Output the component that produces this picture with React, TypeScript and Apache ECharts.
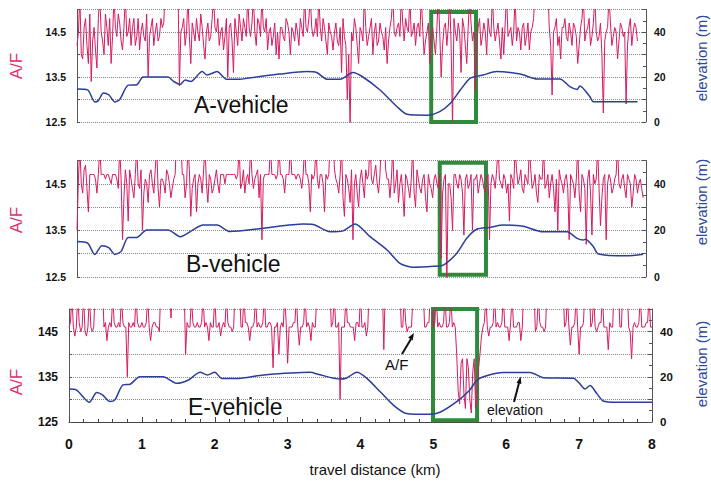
import React, { useEffect, useRef } from "react";
import * as echarts from "echarts";

// ---------- data ----------
const STEP_KM = 0.04; // spacing of the main A/F samples along the route (km); mid samples sit halfway between

const distanceTicks = [0, 1, 2, 3, 4, 5, 6, 7, 8];
const afTickValues = [12.5, 13.5, 14.5];
const afTickLabelsAB = ["12.5", "13.5", "14.5"];
const afTickLabelsE = ["125", "135", "145"];
const elevTickValues = [0, 20, 40];
const vehicleNames = ["A-vehicle", "B-vehicle", "E-vehicle"];

// A/F readings (values above 15 fall outside the plotted range)
const afA = [
  14.2, 15.3, 13.9, 14.8, 13.8, 13.4, 14.6, 13.7, 15.3, 14.3,
  14.9, 14.2, 13.8, 15.3, 14.4, 14.7, 14.1, 15.3, 14.5, 14.2,
  14.8, 14.4, 14.1, 14.7, 14.3, 13.5, 14.6, 14.2, 14.7, 14.4,
  14.6, 15.5, 15.5, 15.5, 15.5, 15.5, 13.3, 14.6, 14.2, 15.3,
  13.8, 14.5, 14.8, 14.3, 14.6, 13.9, 14.7, 14.4, 15.3, 14.5,
  14.2, 14.6, 14.4, 13.5, 14.7, 13.6, 14.5, 14.9, 14.3, 14.6,
  15.3, 14.4, 15.3, 14.2, 14.7, 15.3, 14.5, 14.1, 14.6, 14.4,
  14.0, 13.9, 14.6, 14.3, 14.7, 14.0, 14.5, 14.7, 14.2, 14.6,
  15.3, 14.5, 15.3, 14.4, 14.8, 15.3, 14.3, 14.6, 14.0, 14.5,
  14.1, 14.7, 14.2, 13.6, 14.4, 13.0, 12.4, 14.3, 14.6, 13.8,
  14.5, 15.3, 14.2, 14.6, 14.0, 14.7, 14.3, 14.5, 14.1, 13.8,
  14.6, 15.3, 14.4, 14.7, 15.3, 14.3, 14.6, 15.3, 14.5, 14.2,
  14.7, 15.3, 14.0, 14.5, 13.8, 14.6, 14.0, 15.3, 13.5, 14.6,
  14.2, 15.3, 12.4, 14.5, 14.7, 13.6, 14.6, 13.8, 15.3, 14.3,
  13.2, 14.6, 14.2, 14.7, 14.0, 14.5, 15.3, 14.3, 14.7, 13.9,
  14.0, 15.3, 14.5, 14.2, 15.3, 14.6, 14.1, 14.7, 14.4, 14.1,
  14.6, 15.5, 15.5, 15.5, 15.5, 15.5, 14.6, 13.1, 14.6, 14.2,
  13.9, 14.6, 14.4, 14.7, 14.2, 14.6, 13.8, 14.6, 15.3, 14.5,
  14.8, 14.4, 15.3, 14.3, 14.7, 12.7, 14.5, 15.3, 14.2, 14.6,
  13.9, 14.7, 14.4, 12.9, 14.6, 14.2, 14.7, 14.3,
];
const afAMid = [
  14.5, 14.0, 14.6, 14.2, 14.9, 14.3, 14.1, 14.8, 14.5, 14.0,
  14.6, 14.8, 14.4, 14.6, 14.9, 14.3, 14.6, 14.4, 14.8, 14.6,
  14.2, 14.8, 14.5, 14.4, 14.9, 14.4, 14.8, 14.5, 14.3, 14.8,
  14.7, 15.5, 15.5, 15.5, 15.5, 15.5, 14.5, 14.8, 14.5, 14.4,
  14.7, 14.3, 14.5, 14.9, 14.2, 14.5, 14.3, 14.8, 14.6, 14.8,
  14.5, 14.1, 14.8, 14.6, 14.3, 14.8, 14.2, 14.6, 14.8, 14.4,
  14.6, 14.7, 14.5, 14.8, 14.4, 14.6, 14.8, 14.5, 14.2, 14.7,
  14.5, 14.6, 14.4, 14.8, 14.5, 14.6, 14.3, 14.5, 14.8, 14.4,
  14.6, 14.8, 14.6, 14.5, 14.4, 14.6, 14.8, 14.3, 14.7, 14.4,
  14.5, 14.3, 14.6, 14.8, 14.2, 14.0, 14.5, 14.8, 14.2, 14.6,
  14.3, 14.6, 14.4, 14.8, 14.5, 14.2, 14.7, 14.4, 14.6, 14.3,
  14.8, 14.5, 14.6, 14.4, 14.7, 14.8, 14.5, 14.4, 14.7, 14.6,
  14.4, 14.6, 14.3, 14.7, 14.4, 14.3, 14.6, 14.5, 14.2, 14.7,
  14.6, 14.2, 14.8, 14.3, 14.5, 14.8, 14.2, 14.6, 14.7, 14.5,
  14.2, 14.8, 14.4, 14.5, 14.8, 14.4, 14.6, 14.5, 14.3, 14.6,
  14.7, 14.4, 14.6, 14.5, 14.3, 14.5, 14.6, 14.2, 14.7, 14.5,
  14.8, 15.5, 15.5, 15.5, 15.5, 15.5, 14.2, 14.5, 14.8, 14.4,
  14.6, 14.8, 14.3, 14.5, 14.7, 14.4, 14.2, 14.8, 14.3, 14.6,
  14.2, 14.7, 14.5, 14.4, 14.0, 14.3, 14.6, 14.7, 14.4, 14.5,
  14.3, 14.6, 14.5, 14.2, 14.8, 14.5, 14.6,
];

const afB = [
  13.5, 15.3, 14.3, 14.9, 13.9, 14.7, 14.7, 14.3, 15.3, 14.7,
  14.6, 14.7, 14.5, 14.7, 14.6, 15.3, 13.3, 14.8, 13.7, 14.6,
  14.2, 15.3, 14.4, 13.5, 14.6, 14.1, 14.8, 14.3, 15.3, 14.0,
  14.6, 14.3, 14.7, 14.2, 14.6, 15.5, 15.5, 14.7, 14.2, 15.3,
  13.8, 14.6, 13.9, 14.7, 14.3, 15.3, 14.1, 14.6, 14.4, 14.8,
  14.3, 14.7, 14.5, 14.7, 14.7, 14.7, 14.6, 15.3, 14.5, 14.3,
  14.7, 15.3, 14.4, 14.7, 14.2, 13.3, 14.7, 14.7, 15.3, 14.7,
  14.6, 15.3, 14.7, 14.3, 14.7, 15.3, 14.7, 14.6, 14.7, 14.4,
  15.3, 14.7, 13.9, 14.6, 15.3, 14.4, 14.7, 13.9, 14.6, 15.5,
  15.5, 14.6, 14.3, 15.3, 13.8, 14.6, 14.1, 13.3, 14.7, 14.0,
  14.8, 14.2, 14.6, 15.5, 14.5, 14.9, 14.3, 15.5, 15.5, 14.6,
  14.2, 15.3, 14.5, 14.1, 14.7, 13.8, 14.6, 14.2, 15.3, 14.0,
  14.6, 14.3, 14.7, 13.9, 14.5, 14.2, 14.7, 14.4, 12.9, 14.6,
  12.4, 14.5, 13.5, 14.7, 14.4, 14.6, 13.4, 14.7, 14.5, 13.5,
  14.6, 14.3, 14.7, 14.4, 14.6, 13.3, 14.7, 14.4, 15.3, 14.5,
  14.7, 14.3, 13.7, 14.6, 15.3, 14.5, 14.8, 14.3, 14.6, 15.3,
  14.4, 14.7, 14.1, 14.6, 15.3, 14.5, 14.2, 14.7, 13.9, 13.5,
  14.6, 14.3, 14.7, 13.3, 14.6, 14.2, 15.3, 13.9, 14.6, 13.2,
  14.8, 13.4, 14.5, 15.3, 13.6, 14.6, 13.3, 14.7, 14.3, 14.6,
  15.3, 14.4, 14.7, 14.2, 14.6, 14.0, 14.7, 14.3, 14.6, 14.2,
];
const afBMid = [
  14.6, 14.5, 14.8, 14.4, 14.7, 14.7, 14.6, 14.7, 14.7, 14.7,
  14.7, 14.6, 14.7, 14.7, 14.4, 14.6, 14.2, 14.5, 14.8, 14.4,
  14.7, 14.5, 14.8, 14.3, 14.5, 14.7, 14.5, 14.8, 14.4, 14.6,
  14.5, 14.8, 14.5, 14.4, 14.7, 15.5, 15.5, 14.7, 14.5, 14.8,
  14.4, 14.7, 14.5, 14.6, 14.8, 14.5, 14.7, 14.3, 14.6, 14.5,
  14.7, 14.7, 14.7, 14.7, 14.7, 14.7, 14.7, 14.4, 14.8, 14.6,
  14.5, 14.7, 14.6, 14.8, 14.7, 14.6, 14.7, 14.7, 14.7, 14.7,
  14.7, 14.7, 14.6, 14.7, 14.7, 14.7, 14.7, 14.7, 14.6, 14.7,
  14.7, 14.5, 14.7, 14.7, 14.6, 14.7, 14.5, 14.7, 14.7, 15.5,
  14.8, 14.5, 14.7, 14.2, 14.7, 14.4, 14.8, 14.5, 14.3, 14.6,
  14.5, 14.8, 14.7, 14.6, 14.7, 14.5, 14.7, 15.5, 14.8, 14.6,
  14.6, 14.3, 14.8, 14.5, 14.3, 14.7, 14.4, 14.6, 14.3, 14.8,
  14.4, 14.6, 14.2, 14.7, 14.4, 14.6, 14.5, 14.7, 14.3, 14.7,
  14.5, 14.2, 14.7, 14.5, 14.7, 14.3, 14.6, 14.4, 14.7, 14.6,
  14.7, 14.5, 14.6, 14.3, 14.7, 14.5, 14.6, 14.8, 14.6, 14.4,
  14.6, 14.5, 14.7, 14.4, 14.8, 14.6, 14.4, 14.7, 14.5, 14.8,
  14.5, 14.3, 14.7, 14.6, 14.4, 14.7, 14.5, 14.4, 14.6, 14.8,
  14.5, 14.6, 14.4, 14.7, 14.5, 14.6, 14.3, 14.7, 14.4, 14.6,
  14.3, 14.7, 14.6, 14.4, 14.2, 14.7, 14.5, 14.6, 14.4, 14.7,
  14.5, 14.6, 14.4, 14.7, 14.5, 14.3, 14.6, 14.5, 14.4,
];

const afE = [
  14.6, 15.3, 14.4, 15.3, 14.5, 15.3, 14.4, 15.3, 14.5, 15.5,
  15.5, 15.5, 14.6, 14.3, 14.7, 15.3, 14.6, 14.7, 15.3, 14.6,
  13.5, 14.6, 14.7, 15.3, 14.6, 14.7, 14.6, 15.3, 14.3, 14.7,
  14.6, 14.5, 15.5, 15.5, 15.5, 14.8, 15.5, 15.5, 15.5, 15.5,
  14.0, 14.6, 15.3, 14.6, 14.7, 14.6, 15.3, 14.7, 14.3, 14.6,
  15.3, 14.6, 14.4, 14.7, 15.3, 14.6, 14.5, 15.5, 15.5, 14.6,
  15.3, 14.7, 14.3, 14.6, 15.3, 14.7, 14.6, 15.3, 14.6, 14.7,
  13.7, 14.6, 14.0, 14.7, 15.3, 13.8, 14.6, 14.7, 15.3, 14.2,
  14.6, 15.3, 14.7, 14.3, 14.6, 15.3, 15.5, 15.5, 15.5, 15.5,
  14.6, 15.3, 14.6, 13.0, 14.6, 15.3, 14.7, 14.6, 14.3, 14.7,
  15.3, 14.6, 14.4, 15.5, 15.5, 15.5, 15.5, 15.5, 14.1, 15.5,
  15.5, 15.5, 15.5, 15.5, 14.6, 15.3, 14.5, 14.6, 15.3, 15.5,
  15.5, 15.5, 14.6, 14.7, 15.5, 14.6, 15.3, 14.7, 14.6, 15.3,
  14.6, 15.3, 14.7, 14.0, 12.9, 13.9, 12.8, 13.7, 12.7, 13.9,
  13.0, 14.0, 14.6, 15.3, 14.4, 14.6, 15.3, 14.7, 14.6, 15.3,
  14.6, 14.3, 15.3, 14.6, 14.7, 14.3, 15.5, 15.5, 15.5, 15.5,
  14.5, 15.3, 14.6, 14.5, 15.5, 15.5, 15.5, 15.5, 15.5, 15.5,
  14.6, 15.3, 14.2, 14.6, 15.3, 14.0, 14.6, 15.5, 15.5, 14.6,
  15.3, 14.5, 14.7, 15.3, 14.6, 14.1, 14.6, 15.5, 15.5, 14.6,
  15.5, 15.5, 14.6, 13.9, 14.7, 14.6, 15.3, 14.6, 14.7, 15.3,
  14.6,
];
const afEMid = [
  14.7, 14.6, 14.6, 14.7, 14.6, 14.5, 14.6, 14.6, 14.6, 15.5,
  15.5, 15.5, 14.7, 14.6, 14.6, 14.7, 14.6, 14.6, 14.7, 14.6,
  14.7, 14.6, 14.6, 14.7, 14.6, 14.6, 14.7, 14.6, 14.6, 14.7,
  14.6, 15.5, 15.5, 15.5, 15.5, 15.5, 15.5, 15.5, 15.5, 15.5,
  14.7, 14.6, 14.7, 14.6, 14.6, 14.7, 14.6, 14.6, 14.7, 14.6,
  14.6, 14.7, 14.6, 14.6, 14.7, 14.6, 14.6, 15.5, 15.5, 14.6,
  14.7, 14.6, 14.6, 14.7, 14.6, 14.6, 14.7, 14.6, 14.7, 14.6,
  14.6, 14.7, 14.6, 14.6, 14.7, 14.6, 14.6, 14.7, 14.6, 14.6,
  14.7, 14.6, 14.6, 14.7, 14.6, 15.5, 15.5, 15.5, 15.5, 15.5,
  14.7, 14.6, 14.7, 14.6, 14.6, 14.7, 14.6, 14.6, 14.7, 14.6,
  14.6, 14.7, 14.6, 15.5, 15.5, 15.5, 15.5, 15.5, 15.5, 15.5,
  15.5, 15.5, 15.5, 15.5, 14.6, 14.7, 14.6, 14.6, 15.5, 15.5,
  15.5, 15.5, 14.6, 14.7, 15.5, 14.7, 14.6, 14.6, 14.7, 14.6,
  14.7, 14.6, 14.6, 13.2, 13.8, 13.1, 13.9, 13.0, 13.6, 12.8,
  13.7, 14.4, 14.7, 14.6, 14.6, 14.7, 14.6, 14.6, 14.7, 14.6,
  14.6, 14.7, 14.6, 14.6, 14.7, 14.6, 15.5, 15.5, 15.5, 15.5,
  14.6, 14.7, 14.6, 14.6, 15.5, 15.5, 15.5, 15.5, 15.5, 15.5,
  14.7, 14.6, 14.6, 14.7, 14.6, 14.6, 14.7, 15.5, 15.5, 14.7,
  14.6, 14.6, 14.7, 14.6, 14.6, 14.7, 14.6, 15.5, 15.5, 14.6,
  15.5, 15.5, 14.5, 14.6, 14.6, 14.7, 14.6, 14.6, 14.7, 14.6,
];

// elevation profile [km, m]
const elevA: [number, number][] = [
  [0, 14.7], [0.15, 14.3], [0.25, 8.9], [0.3, 9.5], [0.37, 12.9], [0.45, 12], [0.53, 8.9],
  [0.6, 10], [0.72, 16.4], [0.84, 16.6], [0.93, 20], [1.28, 20], [1.36, 18], [1.45, 16.7],
  [1.52, 18.7], [1.6, 18], [1.76, 22.4], [1.83, 20.9], [1.97, 22.4], [2.1, 19], [2.29, 19],
  [2.39, 19.4], [2.62, 20.4], [2.85, 21.3], [3.23, 22.4], [3.37, 22], [3.52, 19], [3.7, 19],
  [3.88, 22], [4.02, 20], [4.26, 14.2], [4.5, 6.8], [4.64, 3.4], [4.92, 3], [5.1, 4.6],
  [5.25, 8.3], [5.39, 14.2], [5.53, 19.5], [5.71, 20.9], [5.9, 22.4], [6.23, 21.3],
  [6.47, 19.1], [6.79, 19.1], [6.93, 15.7], [7.03, 14.5], [7.07, 16], [7.21, 11.3],
  [7.26, 9], [7.88, 9],
];

const elevB: [number, number][] = [
  [0, 15.2], [0.15, 14.5], [0.25, 9.7], [0.35, 13.4], [0.45, 12.5], [0.53, 9.7], [0.62, 11],
  [0.72, 17], [0.84, 17], [0.98, 20.2], [1.28, 20.2], [1.45, 17.3], [1.62, 20], [1.77, 22.3],
  [1.97, 22.3], [2.15, 19.5], [2.62, 20.9], [3.18, 22.7], [3.32, 22.5], [3.56, 19.4],
  [3.74, 19.8], [3.91, 22.7], [4.12, 17.3], [4.36, 11.6], [4.54, 5.9], [4.73, 4.2],
  [5.01, 4.6], [5.15, 5.1], [5.34, 10.2], [5.48, 16.6], [5.62, 20.5], [5.81, 21.3],
  [5.99, 22.3], [6.27, 21.8], [6.55, 19.4], [6.89, 19.4], [7.03, 16.6], [7.12, 15.9],
  [7.15, 16.2], [7.26, 13], [7.33, 9.9], [7.73, 9.1], [7.96, 9.8],
];

const elevE: [number, number][] = [
  [0, 14.6], [0.1, 14.2], [0.28, 8.7], [0.38, 13.1], [0.46, 12], [0.56, 9.1], [0.63, 9.8],
  [0.74, 16.4], [0.84, 16.7], [0.97, 20], [1.29, 20], [1.48, 17.1], [1.64, 18.6], [1.8, 22],
  [1.9, 20.8], [2.0, 22], [2.1, 19.2], [2.3, 19.2], [2.67, 20.8], [3.31, 22], [3.43, 21],
  [3.72, 19], [3.81, 19.5], [3.95, 22], [4.08, 19.5], [4.27, 13.4], [4.45, 7.5], [4.63, 3.8],
  [4.95, 3.4], [5.09, 4.3], [5.32, 9], [5.5, 14.2], [5.6, 18.6], [5.73, 20.5], [5.96, 21.9],
  [6.33, 21.9], [6.51, 19.6], [6.92, 19.4], [7.0, 17.3], [7.08, 14.6], [7.15, 16.1],
  [7.24, 12.7], [7.33, 9.3], [7.51, 8.7], [8.0, 8.7],
];

// highlighted stretch of each run: [km from, km to, m low, m high]
const highlightA = [4.98, 5.61, -0.9, 48.9];
const highlightB = [5.1, 5.75, 1.0, 49.0];
const highlightE = [4.995, 5.6, 0.75, 50.4];

// ---------- styles ----------
const AF_COLOR = "#d81b62";
const AF_LABEL_COLOR = "#e0306e";
const ELEV_COLOR = "#2c3e9a";
const ELEV_LABEL_COLOR = "#2b4aa0";
const GREEN = "#2f8a3c";
const FONT = '"Liberation Sans", Arial, Helvetica, sans-serif';

const panels = [
  { af: afA, afMid: afAMid, elev: elevA, box: highlightA, labels: afTickLabelsAB, grid: { left: 77, right: 65, top: 9.5, height: 112.5 }, lblSize: 10.5, rLblSize: 10.5 },
  { af: afB, afMid: afBMid, elev: elevB, box: highlightB, labels: afTickLabelsAB, grid: { left: 77, right: 65, top: 160.5, height: 116.5 }, lblSize: 10.5, rLblSize: 10.5 },
  { af: afE, afMid: afEMid, elev: elevE, box: highlightE, labels: afTickLabelsE, grid: { left: 69, right: 59, top: 309, height: 113 }, lblSize: 12, rLblSize: 11.5 },
];

function near(a: number, b: number) {
  return Math.abs(a - b) < 1e-6;
}

function afPoints(main: number[], mid: number[]) {
  const pts: [number, number][] = [];
  main.forEach((v, k) => {
    pts.push([+(k * STEP_KM).toFixed(3), v]);
    if (k < mid.length && k < main.length - 1) {
      pts.push([+((k + 0.5) * STEP_KM).toFixed(3), mid[k]]);
    }
  });
  return pts;
}

export default function App() {
  const ref = useRef<HTMLDivElement>(null);

  useEffect(() => {
    if (!ref.current) return;
    const chart = echarts.init(ref.current, null, { renderer: "svg" });

    const grid = panels.map((p) => p.grid);
    const xAxis = panels.map((p, i) => {
      const bottom = i === panels.length - 1;
      return {
        type: "value",
        gridIndex: i,
        min: distanceTicks[0],
        max: distanceTicks[distanceTicks.length - 1],
        interval: 1,
        axisLine: { show: bottom, lineStyle: { color: "#444", width: 1 } },
        axisTick: { show: bottom, inside: true, length: 5, lineStyle: { color: "#444" } },
        minorTick: { show: bottom, splitNumber: 5, length: 3, lineStyle: { color: "#444" } },
        axisLabel: {
          show: bottom,
          margin: 15,
          fontSize: 14,
          fontWeight: "bold",
          color: "#111",
          fontFamily: FONT,
        },
        splitLine: { show: false },
      };
    });

    const yAxis: any[] = [];
    panels.forEach((p, i) => {
      yAxis.push({
        type: "value",
        gridIndex: i,
        position: "left",
        min: 12.5,
        max: 15,
        interval: 0.5,
        axisLine: { show: true, lineStyle: { color: "#555", width: 1 } },
        axisTick: { show: true, inside: true, length: 3, lineStyle: { color: "#555" } },
        axisLabel: {
          margin: 11,
          fontSize: p.lblSize,
          fontWeight: "bold",
          color: "#111",
          fontFamily: FONT,
          formatter: (v: number) => {
            const k = afTickValues.findIndex((t) => near(t, v));
            return k >= 0 ? p.labels[k] : "";
          },
        },
        splitLine: { show: true, lineStyle: { color: "#8a8a8a", type: "dotted", width: 1 } },
      });
      yAxis.push({
        type: "value",
        gridIndex: i,
        position: "right",
        min: 0,
        max: 50,
        interval: 10,
        axisLine: { show: true, lineStyle: { color: "#555", width: 1 } },
        axisTick: { show: true, inside: true, length: 4, lineStyle: { color: "#555" } },
        minorTick: { show: true, splitNumber: 2, length: 3, lineStyle: { color: "#555" } },
        axisLabel: {
          margin: 8,
          fontSize: p.rLblSize,
          fontWeight: "bold",
          color: "#111",
          fontFamily: FONT,
          formatter: (v: number) => (elevTickValues.some((t) => near(t, v)) ? String(v) : ""),
        },
        splitLine: { show: false },
      });
    });

    const series: any[] = [];
    panels.forEach((p, i) => {
      series.push({
        type: "line",
        name: "A/F " + vehicleNames[i],
        xAxisIndex: i,
        yAxisIndex: i * 2,
        data: afPoints(p.af, p.afMid),
        showSymbol: false,
        symbol: "none",
        clip: true,
        lineStyle: { color: AF_COLOR, width: 1 },
        itemStyle: { color: AF_COLOR },
        silent: true,
        z: 2,
      });
      series.push({
        type: "line",
        name: "elevation " + vehicleNames[i],
        xAxisIndex: i,
        yAxisIndex: i * 2 + 1,
        data: p.elev,
        showSymbol: false,
        symbol: "none",
        smooth: 0.25,
        clip: false,
        lineStyle: { color: ELEV_COLOR, width: 1.5 },
        itemStyle: { color: ELEV_COLOR },
        silent: true,
        z: 3,
        markArea: {
          silent: true,
          itemStyle: { color: "rgba(0,0,0,0)", borderColor: GREEN, borderWidth: 4 },
          data: [[{ coord: [p.box[0], p.box[3]] }, { coord: [p.box[1], p.box[2]] }]],
        },
      });
    });

    const text = (t: string, x: number, y: number, size: number, fill: string, opts: any = {}) => ({
      type: "text",
      x,
      y,
      rotation: opts.rotation || 0,
      z: 10,
      style: {
        text: t,
        fill,
        font: `${opts.weight || "normal"} ${size}px ${FONT}`,
        align: opts.align || "left",
        verticalAlign: "middle",
        textAlign: opts.align || "left",
        textVerticalAlign: "middle",
      },
    });

    const graphic: any[] = [
      text("A/F", 16, 66, 17, AF_LABEL_COLOR, { rotation: Math.PI / 2, align: "center" }),
      text("A/F", 16, 220, 17, AF_LABEL_COLOR, { rotation: Math.PI / 2, align: "center" }),
      text("A/F", 16, 382, 17, AF_LABEL_COLOR, { rotation: Math.PI / 2, align: "center" }),
      text("elevation (m)", 701, 58, 15, ELEV_LABEL_COLOR, { rotation: Math.PI / 2, align: "center" }),
      text("elevation (m)", 701, 202, 15, ELEV_LABEL_COLOR, { rotation: Math.PI / 2, align: "center" }),
      text("elevation (m)", 701, 364, 15, ELEV_LABEL_COLOR, { rotation: Math.PI / 2, align: "center" }),
      text(vehicleNames[0], 194, 105.3, 23, "#111"),
      text(vehicleNames[1], 186, 263.5, 23, "#111"),
      text(vehicleNames[2], 188, 407, 23, "#111"),
      text("travel distance (km)", 375, 469, 15, "#111", { align: "center" }),
      text("A/F", 385, 364, 15, "#111"),
      text("elevation", 487, 410, 14, "#111"),
      { type: "line", z: 10, shape: { x1: 402, y1: 354, x2: 411, y2: 339 }, style: { stroke: "#111", lineWidth: 2 } },
      { type: "polygon", z: 10, shape: { points: [[414, 333], [412.6, 340.5], [408.2, 337.6]] }, style: { fill: "#111" } },
      { type: "line", z: 10, shape: { x1: 514, y1: 402, x2: 519, y2: 383 }, style: { stroke: "#111", lineWidth: 2 } },
      { type: "polygon", z: 10, shape: { points: [[520.7, 376.5], [521.4, 384.0], [516.5, 382.7]] }, style: { fill: "#111" } },
    ];

    chart.setOption({
      animation: false,
      backgroundColor: "#ffffff",
      textStyle: { fontFamily: FONT },
      grid,
      xAxis,
      yAxis,
      series,
      graphic,
    });

    return () => chart.dispose();
  }, []);

  return (
    <div
      ref={ref}
      style={{ position: "absolute", left: 0, top: 0, width: 711, height: 481, background: "#fff" }}
    />
  );
}
